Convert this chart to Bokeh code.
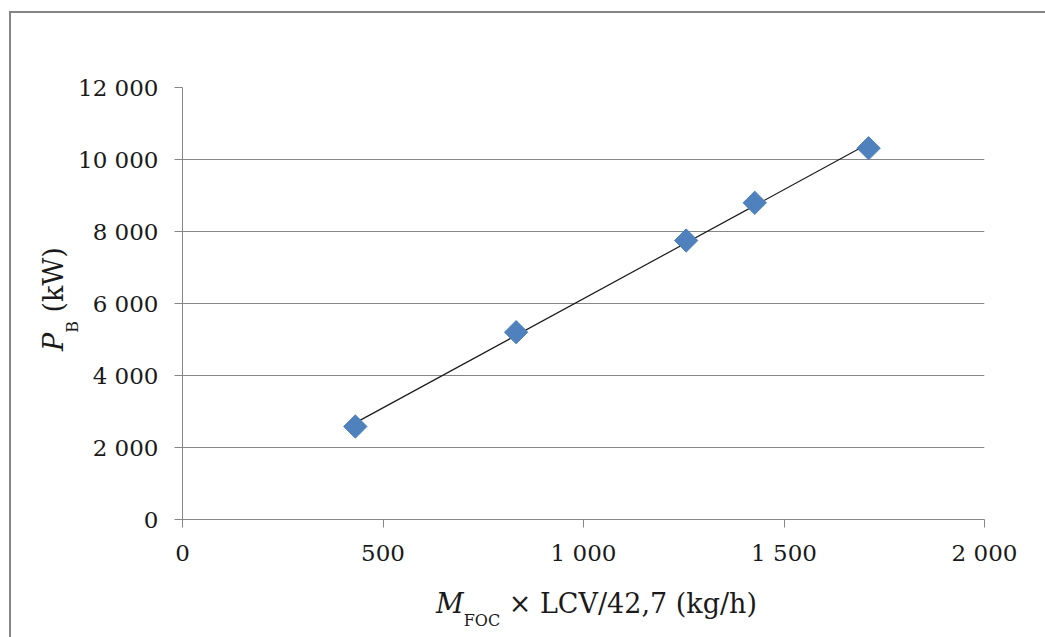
import numpy as np
from bokeh.plotting import figure
from bokeh.models import Range1d, FixedTicker, Div, InlineStyleSheet
from bokeh.layouts import row, column
from bokeh.embed import file_html
from bokeh.resources import INLINE

# data
fuel_flow = [431, 832, 1256, 1427, 1711]          # M_FOC x LCV/42,7 (kg/h)
power_kw = [2583, 5203, 7750, 8797, 10314]        # P_B (kW)

x_ticks = [0, 500, 1000, 1500, 2000]
x_tick_labels = ["0", "500", "1 000", "1 500", "2 000"]
y_ticks = [0, 2000, 4000, 6000, 8000, 10000, 12000]
y_tick_labels = ["0", "2 000", "4 000", "6 000", "8 000", "10 000", "12 000"]

x_title = ("M", "FOC", " × LCV/42,7 (kg/h)")
y_title = ("P", "B", " (kW)")

FONT = "DejaVu Serif"
GREY = "#868686"
LEFT_W = 74
FIG_W, FIG_H = 1045 - LEFT_W, 580
BOTTOM_H = 637 - FIG_H

p = figure(width=FIG_W, height=FIG_H, output_backend="svg", toolbar_location=None,
           x_range=Range1d(0, 2000), y_range=Range1d(0, 12000),
           min_border_left=108, min_border_right=61, min_border_top=87, min_border_bottom=61)
p.outline_line_color = None
p.background_fill_color = "white"
p.border_fill_color = None

p.xgrid.grid_line_color = None
p.ygrid.grid_line_color = GREY
p.ygrid.grid_line_width = 1
p.ygrid.ticker = FixedTicker(ticks=y_ticks)

for ax in (p.xaxis[0], p.yaxis[0]):
    ax.axis_line_color = GREY
    ax.major_tick_line_color = GREY
    ax.minor_tick_line_color = None
    ax.major_tick_in = 0
    ax.major_label_text_font = FONT
    ax.major_label_text_font_size = "23px"
    ax.major_label_text_color = "#1a1a1a"

p.xaxis.ticker = FixedTicker(ticks=x_ticks)
p.xaxis.major_label_overrides = {t: s for t, s in zip(x_ticks, x_tick_labels)}
p.xaxis.major_tick_out = 8
p.xaxis.major_label_standoff = 12
p.yaxis.ticker = FixedTicker(ticks=y_ticks)
p.yaxis.major_label_overrides = {t: s for t, s in zip(y_ticks, y_tick_labels)}
p.yaxis.major_tick_out = 8
p.yaxis.major_label_standoff = 16

# linear trend line over the data range
coef = np.polyfit(fuel_flow, power_kw, 1)
tx = [min(fuel_flow), max(fuel_flow)]
ty = [coef[0] * v + coef[1] for v in tx]
p.line(tx, ty, line_color="#1a1a1a", line_width=1.2)

p.scatter(fuel_flow, power_kw, marker="square", size=16.5, angle=np.pi / 4,
          fill_color="#4F81BD", line_color="#4F81BD", line_width=1)

TXT = (f"font-family:'{FONT}'; font-size:27px; line-height:27px; color:#1a1a1a;"
       " white-space:nowrap; position:absolute;")

def title_html(parts, shift):
    main, sub, rest = parts
    return (f"<i>{main}</i><span style='font-size:16px; line-height:0;"
            f" vertical-align:-{shift}px;'>{sub}</span>{rest}")

y_div = Div(width=LEFT_W, height=637, margin=(0, 0, 0, 0),
            styles={"overflow": "visible", "z-index": "5"},
            stylesheets=[InlineStyleSheet(css=":host, .bk-clearfix { overflow: visible !important; }")],
            text=(
    f"<div style='position:relative; width:{LEFT_W}px; height:637px; overflow:visible;'>"
    f"<span style=\"{TXT} left:40px; top:351px; transform-origin:0 0;"
    f" transform:rotate(-90deg);\">{title_html(y_title, 15)}</span></div>"))

x_div = Div(width=FIG_W, height=BOTTOM_H, margin=(0, 0, 0, 0), text=(
    f"<div style='position:relative; width:{FIG_W}px; height:{BOTTOM_H}px;'>"
    f"<span style=\"{TXT} left:{436 - LEFT_W}px; top:10px;\">{title_html(x_title, 13)}</span></div>"))

layout = row(y_div, column(p, x_div, spacing=0), spacing=0)
layout.stylesheets = [InlineStyleSheet(css=
    ":host { position: relative; }"
    ":host::after { content: ''; position: absolute; left: 9px; top: 11px;"
    " width: 1200px; height: 800px; border: 2px solid #868686;"
    " pointer-events: none; z-index: 50; box-sizing: border-box; }")]

open("out.html", "w").write(file_html(layout, INLINE))
